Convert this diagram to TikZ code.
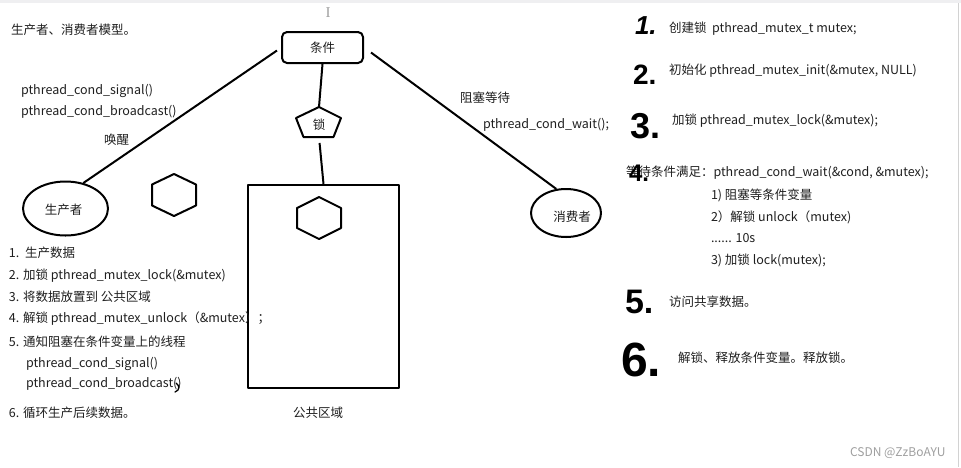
\documentclass[tikz,border=0pt]{standalone}
\usepackage{fontspec}
\setmainfont{Noto Sans CJK SC}
\newfontfamily\handfont{Liberation Sans}
\newfontfamily\seriffont{Liberation Serif}
\usetikzlibrary{shapes.geometric,calc}
\begin{document}
\begin{tikzpicture}[x=1pt,y=-1pt,line width=2pt,line join=round,
  txt/.style={anchor=base west,inner sep=0pt,font=\fontsize{12.5}{14}\selectfont,text=black!88},
  lbl/.style={inner sep=0pt,font=\fontsize{12.5}{14}\selectfont,text=black!88},
  num/.style={anchor=base west,inner sep=0pt,text=black,font=\handfont\bfseries},
  shapeline/.style={draw=black,line width=2pt}]
\fill[white] (0,0) rectangle (961,467);
\useasboundingbox (0,0) rectangle (961,467);
\fill[blue!6!gray!12] (0,0) rectangle (961,3);
\draw[gray!35,line width=1.5pt] (958.5,3) -- (958.5,467);

% cursor
\node[inner sep=0pt,text=gray!75,font=\seriffont\fontsize{15}{15}\selectfont] (cursor) at (328,13) {I};

% title
\node[txt] (title) at (10,34.5) {生产者、消费者模型。};

% condition box
\node[shapeline,rounded corners=5pt,minimum width=81pt,minimum height=31pt,inner sep=0pt,
      font=\fontsize{12.5}{14}\selectfont,text=black!88] (cond) at (322.5,47.5) {条件};

% lock pentagon
\coordinate (lockTop) at (319,107);
\coordinate (lockBot) at (319,137);
\draw[shapeline] (319,107) -- (341,118) -- (333.5,137) -- (303.5,137) -- (296,118) -- cycle;
\node[lbl] (lock) at (319,125) {锁};

% public area box
\node[shapeline,minimum width=150.5pt,minimum height=203pt,inner sep=0pt] (pub) at (323.5,286.5) {};
\draw[shapeline] (319,197) -- (341,208) -- (341,228) -- (319,239) -- (297,228) -- (297,208) -- cycle;
\node[lbl] (publbl) at (318,413) {公共区域};

% free hexagon
\draw[shapeline] (174,174) -- (196,184.5) -- (196,205.5) -- (174,216) -- (152,205.5) -- (152,184.5) -- cycle;

% producer and consumer
\node[shapeline,ellipse,minimum width=85pt,minimum height=54pt,inner sep=0pt] (prod) at (65.5,208.5) {};
\node[lbl] (prodlbl) at (63.5,210) {生产者};
\node[shapeline,ellipse,minimum width=70pt,minimum height=48pt,inner sep=0pt] (cons) at (566,213) {};
\node[lbl] (conslbl) at (572,217) {消费者};

% connectors
\draw ($(cond.west)+(-4,3)$) -- (prod.55);
\draw ($(cond.east)+(7,5)$) -- (cons.112);
\draw (cond.south) -- (lockTop);
\draw[shorten <=6pt] (lockBot) -- (pub.north);

% labels near connectors
\node[txt] (sig1) at (20,94.5) {pthread\_cond\_signal()};
\node[txt] (bc1) at (20,115.5) {pthread\_cond\_broadcast()};
\node[txt] (wake) at (103,144.5) {唤醒};
\node[txt] (block) at (459,102.5) {阻塞等待};
\node[txt] (wait1) at (482,128.5) {pthread\_cond\_wait();};

% producer steps
\node[txt] (p1) at (8,257.5) {1.\ \ 生产数据};
\node[txt] (p2) at (8,279) {2. 加锁 pthread\_mutex\_lock(\&mutex)};
\node[txt] (p3) at (8,301) {3. 将数据放置到 公共区域};
\node[txt] (p4) at (8,322.5) {4. 解锁 pthread\_mutex\_unlock（\&mutex）；};
\node[txt] (p5) at (8,346) {5. 通知阻塞在条件变量上的线程};
\node[txt] (p5a) at (25,367) {pthread\_cond\_signal()};
\node[txt] (p5b) at (25,387.5) {pthread\_cond\_broadcast()};
\draw[line width=1.3pt,line cap=round] (176,383) .. controls (180,386) and (180,390) .. (175,392);
\node[txt] (p6) at (8,417) {6. 循环生产后续数据。};

% right steps
\node[txt] (r1) at (668,32.5) {创建锁\ \ pthread\_mutex\_t mutex;};
\node[txt] (r2) at (668,74.5) {初始化 pthread\_mutex\_init(\&mutex, NULL)};
\node[txt] (r3) at (671,124.5) {加锁 pthread\_mutex\_lock(\&mutex);};
\node[txt] (r4) at (625,176.5) {等待条件满足：pthread\_cond\_wait(\&cond, \&mutex);};
\node[txt] (r4a) at (710,199) {1) 阻塞等条件变量};
\node[txt] (r4b) at (710,221) {2）解锁 unlock（mutex)};
\node[txt] (r4c) at (710,242.5) {...... 10s};
\node[txt] (r4d) at (710,264.5) {3) 加锁 lock(mutex);};
\node[txt] (r5) at (668,306.5) {访问共享数据。};
\node[txt] (r6) at (677,362) {解锁、释放条件变量。释放锁。};

% handwritten numerals
\node[num,font=\handfont\bfseries\itshape\fontsize{26}{26}\selectfont] (n1) at (634,34) {1.};
\node[num,font=\handfont\bfseries\fontsize{28}{28}\selectfont] (n2) at (632,84) {2.};
\node[num,font=\handfont\bfseries\fontsize{36}{36}\selectfont] (n3) at (629,138) {3.};
\node[num,font=\handfont\bfseries\fontsize{24}{24}\selectfont] (n4) at (628,181) {4.};
\node[num,font=\handfont\bfseries\fontsize{34}{34}\selectfont] (n5) at (624,313) {5.};
\node[num,font=\handfont\bfseries\fontsize{48}{48}\selectfont] (n6) at (620,376) {6.};

% watermark
\node[anchor=base west,inner sep=0pt,text=gray!75,font=\fontsize{12}{12}\selectfont] (wm) at (849,456.5) {CSDN @ZzBoAYU};
\end{tikzpicture}
\end{document}
